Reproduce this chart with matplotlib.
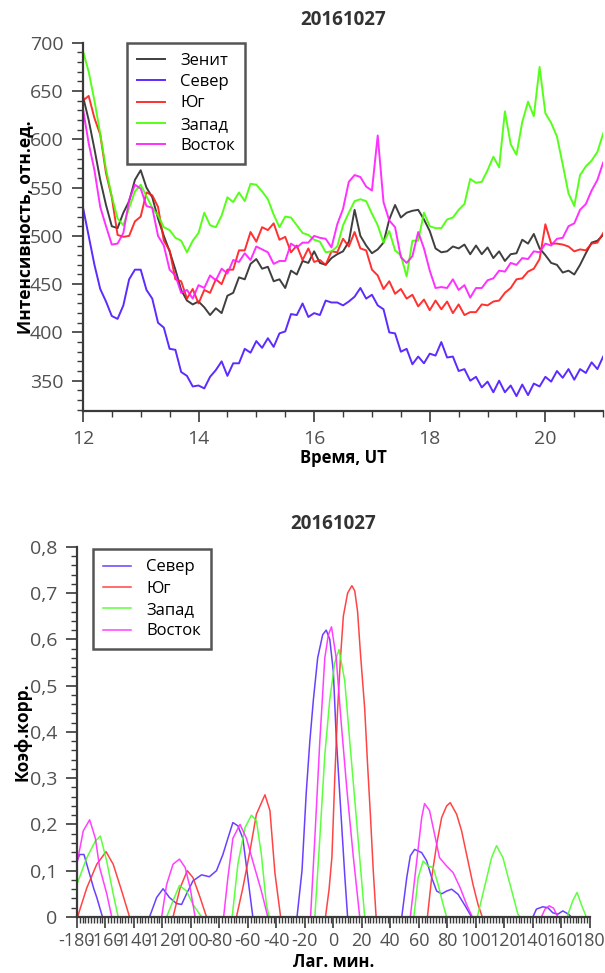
import numpy as np
import matplotlib
matplotlib.use("Agg")
import matplotlib.pyplot as plt
from matplotlib.ticker import MultipleLocator

plt.rcParams['font.family'] = ['Open Sans', 'DejaVu Sans']

# ---------- top panel: intensity vs time (UT), step 0.1 h from 12.0 to 21.0
ut = np.round(np.arange(12.0, 21.0001, 0.1), 2)

zenith = [645, 620, 590, 558, 532, 510, 508, 524, 536, 558,
          568, 550, 540, 518, 500, 484, 465, 444, 433, 429,
          432, 426, 418, 425, 420, 438, 441, 457, 455, 471,
          476, 466, 468, 453, 455, 446, 464, 460, 474, 472,
          484, 472, 470, 477, 481, 484, 494, 527, 500, 490,
          482, 486, 493, 517, 532, 519, 524, 526, 527, 517,
          505, 487, 483, 484, 489, 487, 491, 481, 490, 481,
          488, 477, 484, 474, 481, 482, 496, 492, 502, 487,
          480, 472, 470, 462, 464, 460, 470, 482, 493, 495,
          501]
north = [530, 500, 470, 445, 432, 417, 414, 428, 455, 465,
         465, 444, 435, 410, 405, 383, 382, 359, 355, 344,
         345, 342, 354, 361, 370, 355, 368, 368, 383, 379,
         391, 384, 394, 385, 399, 401, 419, 418, 430, 416,
         420, 418, 433, 431, 431, 428, 432, 437, 446, 435,
         439, 428, 424, 400, 399, 380, 383, 367, 375, 368,
         378, 376, 390, 374, 375, 360, 362, 350, 354, 343,
         349, 338, 350, 338, 345, 334, 346, 335, 347, 344,
         354, 349, 360, 353, 362, 351, 362, 358, 369, 362,
         375]
south = [640, 645, 622, 605, 565, 540, 501, 499, 500, 515,
         520, 545, 542, 530, 495, 485, 455, 453, 435, 445,
         430, 444, 441, 455, 450, 465, 465, 485, 485, 504,
         494, 509, 506, 513, 496, 499, 483, 490, 475, 487,
         473, 475, 470, 484, 483, 497, 489, 504, 487, 485,
         465, 459, 445, 453, 440, 445, 435, 439, 427, 434,
         423, 433, 424, 432, 420, 429, 418, 421, 421, 429,
         428, 432, 433, 441, 446, 455, 456, 463, 466, 476,
         512, 492, 492, 491, 489, 484, 486, 485, 492, 493,
         503]
west = [692, 670, 640, 606, 569, 541, 518, 511, 529, 546,
        553, 541, 529, 521, 509, 506, 498, 495, 483, 495,
        503, 524, 511, 509, 521, 540, 535, 545, 536, 554,
        553, 546, 538, 522, 509, 520, 519, 511, 503, 501,
        496, 494, 483, 484, 489, 511, 524, 536, 538, 536,
        523, 511, 493, 505, 485, 480, 458, 495, 495, 524,
        510, 508, 508, 517, 519, 527, 533, 559, 555, 556,
        568, 582, 571, 629, 595, 584, 618, 639, 624, 675,
        627, 617, 603, 574, 544, 531, 563, 572, 578, 587,
        606]
east = [632, 596, 568, 530, 510, 491, 492, 503, 537, 553,
        549, 531, 529, 500, 490, 465, 459, 441, 444, 435,
        449, 446, 459, 454, 466, 461, 475, 473, 482, 475,
        489, 486, 483, 471, 474, 474, 492, 488, 493, 493,
        500, 498, 497, 488, 512, 528, 556, 563, 561, 551,
        547, 604, 535, 516, 509, 478, 472, 479, 504, 487,
        464, 446, 447, 446, 455, 444, 449, 436, 446, 446,
        454, 456, 464, 463, 472, 470, 477, 476, 484, 483,
        492, 490, 497, 498, 510, 513, 527, 533, 547, 558,
        576]

top_names = ['Зенит', 'Север', 'Юг', 'Запад', 'Восток']
top_colors = ['#2a2a2a', '#4a14ff', '#ff1a1a', '#44ff00', '#ff1aff']

# ---------- bottom panel: cross-correlation vs lag (min)
north_lag = [-180, -178, -175, -171, -168, -166, -162, -145, -129, -124, -119.5, -115,
             -110, -106.5, -103, -98.5, -92.5, -87, -82, -77.5, -74, -70.5, -67, -63.5,
             -60, -56.5, -40, -25.5, -22, -19, -16.5, -14, -11, -7.5, -5, -2.5, 0, 2,
             4, 6, 8, 10, 30, 48, 51.5, 54, 57, 62, 65.5, 69, 72.5, 76, 79.5, 83, 87.5,
             92.5, 97, 120, 140, 142.5, 147, 150.5, 154, 157.5, 161, 165, 167, 172]
north_r = [0.12, 0.135, 0.135, 0.092, 0.06, 0.042, 0.0, -0.1, 0.0, 0.042, 0.061, 0.042,
           0.029, 0.027, 0.05, 0.078, 0.091, 0.087, 0.1, 0.135, 0.17, 0.204, 0.197, 0.17,
           0.085, 0.0, -0.1, 0.0, 0.1, 0.27, 0.38, 0.47, 0.56, 0.61, 0.62, 0.6, 0.53, 0.39,
           0.29, 0.19, 0.09, 0.0, -0.1, 0.0, 0.085, 0.132, 0.146, 0.139, 0.121, 0.085, 0.056,
           0.05, 0.056, 0.06, 0.049, 0.024, 0.0, -0.1, 0.0, 0.017, 0.022, 0.02, 0.009,
           0.006, 0.013, 0.006, 0.0, -0.05]

south_lag = [-180, -179, -173, -166, -159.5, -154.5, -148.5, -143, -128, -112.5, -107.5,
             -102.5, -98.5, -93.5, -89, -78, -68, -63.5, -58.5, -54, -48, -44.5, -41, -37,
             -20, -5.5, -3, -1, 1, 3, 5, 7, 10, 13, 15, 17, 19, 22, 24, 26, 28, 30, 48, 66,
             69, 72.5, 76, 79.5, 82, 86.5, 90, 93.5, 98, 101.5, 104.5, 140, 180]
south_r = [-0.01, 0.005, 0.063, 0.114, 0.141, 0.114, 0.056, 0.0, -0.1, 0.0, 0.063,
           0.1, 0.085, 0.042, 0.0, -0.1, 0.0, 0.063, 0.143, 0.222, 0.264, 0.23, 0.095, 0.0,
           -0.1, 0.0, 0.06, 0.13, 0.3, 0.45, 0.56, 0.65, 0.7, 0.716, 0.705, 0.66, 0.57, 0.45,
           0.33, 0.22, 0.1, 0.0, -0.1, 0.0, 0.085, 0.157, 0.215, 0.24, 0.247, 0.222, 0.186,
           0.135, 0.07, 0.027, 0.0, -0.1, -0.1]

west_lag = [-180, -173, -167, -163.5, -159, -154.5, -151, -135, -117, -112.5, -108, -103,
            -98.5, -92.5, -80, -71, -67, -62, -57.5, -54, -50.5, -47, -45, -30, -13, -9.5,
            -6, -2.5, 1, 4, 8, 11.5, 16.5, 22, 40, 56.5, 59.5, 63, 66.5, 70, 73.5, 77, 79.5,
            90, 101, 106.5, 111, 114.5, 119, 124, 129.5, 131, 150, 164, 168, 171, 174, 177.5]
west_r = [0.07, 0.128, 0.164, 0.175, 0.12, 0.05, 0.0, -0.1, 0.0, 0.035, 0.068, 0.056,
          0.027, 0.0, -0.1, 0.0, 0.114, 0.193, 0.22, 0.208, 0.135, 0.027, 0.0, -0.1, 0.0,
          0.17, 0.35, 0.47, 0.55, 0.578, 0.51, 0.38, 0.2, 0.0, -0.1, 0.0, 0.085, 0.121, 0.11,
          0.107, 0.07, 0.027, 0.0, -0.1, 0.0, 0.07, 0.128, 0.154, 0.128, 0.07, 0.006, 0.0,
          -0.1, 0.0, 0.035, 0.053, 0.027, 0.0]

east_lag = [-180, -175.5, -171, -167, -164, -159, -155.5, -140, -120.5, -117, -112.5, -108,
            -104, -100.5, -97, -85, -77, -74, -70.5, -65.5, -61, -56.5, -50.5, -46, -30, -16,
            -13, -9.5, -6, -3.5, -1.3, 2, 5.5, 9.5, 14, 18.5, 40, 54, 58.5, 62, 64, 67.5, 71,
            74.5, 79.5, 84, 89, 93.5, 97.5, 120, 146, 148.5, 151.5, 154.5, 157.5, 165]
east_r = [0.114, 0.186, 0.21, 0.17, 0.107, 0.05, 0.0, -0.1, 0.0, 0.07, 0.114, 0.125,
          0.107, 0.063, 0.0, -0.1, 0.0, 0.085, 0.17, 0.2, 0.17, 0.12, 0.056, 0.0, -0.1, 0.0,
          0.17, 0.38, 0.56, 0.61, 0.627, 0.56, 0.42, 0.275, 0.13, 0.0, -0.1, 0.0, 0.121, 0.215,
          0.245, 0.23, 0.179, 0.128, 0.11, 0.096, 0.063, 0.027, 0.0, -0.1, 0.0, 0.017, 0.024,
          0.019, 0.0, -0.05]

bot_names = ['Север', 'Юг', 'Запад', 'Восток']
bot_colors = ['#5a2bff', '#ff3030', '#4cff2a', '#ff2cff']

lag_ticks = list(range(-180, 181, 20))
lag_labels = [str(v) for v in lag_ticks]
r_ticks = [0, 0.1, 0.2, 0.3, 0.4, 0.5, 0.6, 0.7, 0.8]
r_labels = ['0', '0,1', '0,2', '0,3', '0,4', '0,5', '0,6', '0,7', '0,8']

TICK_COLOR = '#505050'
SPINE_COLOR = '#3a3a3a'


def style_axes(ax):
    for s in ['top', 'right']:
        ax.spines[s].set_visible(False)
    for s in ['left', 'bottom']:
        ax.spines[s].set_color(SPINE_COLOR)
        ax.spines[s].set_linewidth(1.6)
    ax.tick_params(which='major', direction='out', length=8, width=1.2, pad=6,
                   color=SPINE_COLOR, labelcolor=TICK_COLOR, labelsize=14)
    ax.tick_params(which='minor', direction='out', length=4.5, width=1.0,
                   color=SPINE_COLOR)


def add_legend(ax, x, y):
    leg = ax.legend(loc='upper left', bbox_to_anchor=(x, y), borderaxespad=0,
                    fontsize=12, frameon=True, fancybox=False, framealpha=1,
                    edgecolor='#555555', handlelength=1.7, labelspacing=0.32,
                    borderpad=0.6, handletextpad=0.9)
    leg.get_frame().set_linewidth(1.8)
    return leg


fig = plt.figure(figsize=(6.05, 9.73), dpi=100)

# top
ax1 = fig.add_axes([0.137, 0.578, 0.860, 0.378])
for y, name, c in zip([zenith, north, south, west, east], top_names, top_colors):
    ax1.plot(ut, y, color=c, lw=1.4, alpha=0.9, label=name)
ax1.set_xlim(12, 21)
ax1.set_ylim(319, 700)
ax1.xaxis.set_major_locator(MultipleLocator(2))
ax1.xaxis.set_minor_locator(MultipleLocator(0.5))
ax1.set_yticks([350, 400, 450, 500, 550, 600, 650, 700])
ax1.yaxis.set_minor_locator(MultipleLocator(10))
style_axes(ax1)
ax1.set_title('20161027', fontsize=13.5, fontweight='bold', color='#333333', pad=13)
ax1.set_xlabel('Время, UT', fontsize=12, fontweight='bold')
ax1.set_ylabel('Интенсивность, отн.ед.', fontsize=12.5, fontweight='bold')
ax1.xaxis.set_label_coords(0.5, -0.104)
ax1.yaxis.set_label_coords(-0.094, 0.5)
add_legend(ax1, 0.085, 1.0)

# bottom
ax2 = fig.add_axes([0.127, 0.0576, 0.848, 0.3804])
for lag, r, name, c in zip([north_lag, south_lag, west_lag, east_lag],
                           [north_r, south_r, west_r, east_r], bot_names, bot_colors):
    ax2.plot(lag, r, color=c, lw=1.1, alpha=0.9, label=name)
ax2.set_xlim(-180, 180)
ax2.set_ylim(0, 0.8)
ax2.set_xticks(lag_ticks, lag_labels)
ax2.xaxis.set_minor_locator(MultipleLocator(2))
ax2.set_yticks(r_ticks, r_labels)
ax2.yaxis.set_minor_locator(MultipleLocator(0.02))
style_axes(ax2)
ax2.tick_params(axis='x', which='major', pad=3, labelsize=13)
ax2.set_title('20161027', fontsize=13.5, fontweight='bold', color='#333333', pad=13)
ax2.set_xlabel('Лаг. мин.', fontsize=12, fontweight='bold')
ax2.set_ylabel('Коэф.корр.', fontsize=12.5, fontweight='bold')
ax2.xaxis.set_label_coords(0.5, -0.098)
ax2.yaxis.set_label_coords(-0.088, 0.5)
add_legend(ax2, 0.031, 0.993)

fig.savefig('out.png', dpi=100)
